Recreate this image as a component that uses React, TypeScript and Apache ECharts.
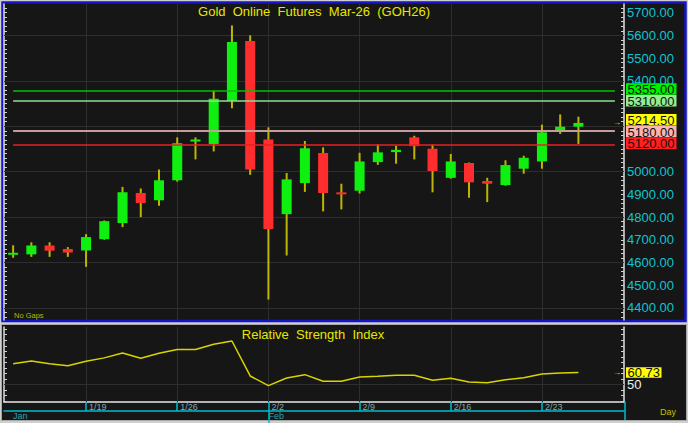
import React, { useEffect, useRef } from 'react';
import * as echarts from 'echarts';

// ---------- data ----------
const dates = [
  '1/13', '1/14', '1/15', '1/16',
  '1/19', '1/20', '1/21', '1/22', '1/23',
  '1/26', '1/27', '1/28', '1/29', '1/30',
  '2/2', '2/3', '2/4', '2/5', '2/6',
  '2/9', '2/10', '2/11', '2/12', '2/13',
  '2/16', '2/17', '2/18', '2/19', '2/20',
  '2/23', '2/24', '2/25', '2/26', '2/27',
];
const opens = [4637, 4636, 4675, 4660, 4653, 4703, 4774, 4906, 4874, 4962, 5135, 5122, 5312, 5575, 5142, 4813, 4950, 5082, 4906, 4916, 5042, 5086, 5151, 5101, 4973, 5038, 4959, 4941, 5013, 5045, 5183, 5198];
const closes = [4640, 4675, 4652, 4644, 4712, 4782, 4909, 4862, 4962, 5125, 5139, 5321, 5571, 5010, 4748, 4966, 5103, 4906, 4903, 5045, 5085, 5096, 5112, 5003, 5045, 4953, 4947, 5029, 5061, 5173, 5198, 5214.5];
const lows = [4621, 4625, 4625, 4625, 4581, 4700, 4756, 4800, 4850, 4956, 5054, 5089, 5279, 4986, 4437, 4631, 4911, 4825, 4834, 4904, 5030, 5035, 5054, 4909, 4969, 4885, 4866, 4938, 4991, 5013, 5166, 5122];
const highs = [4676, 4689, 4689, 4668, 4725, 4785, 4933, 4926, 5010, 5151, 5151, 5356, 5644, 5600, 5195, 4994, 5135, 5107, 4947, 5083, 5120, 5114, 5158, 5119, 5078, 5040, 4973, 5050, 5070, 5207, 5252, 5242];
const rsiValues = [68.6, 71.1, 68.6, 66.9, 70.9, 74.0, 78.5, 73.6, 78.2, 81.6, 81.6, 86.4, 89.3, 57.6, 48.8, 55.8, 58.8, 52.8, 52.8, 56.6, 57.3, 58.2, 58.2, 53.7, 55.5, 52.1, 51.5, 54.2, 56.0, 59.4, 60.3, 60.73];
const weekStarts = ['1/19', '1/26', '2/2', '2/9', '2/16', '2/23'];
const monthNames = ['Jan', 'Feb', 'Mar'];
const priceLabels = [4400, 4500, 4600, 4700, 4800, 4900, 5000, 5100, 5200, 5300, 5400, 5500, 5600, 5700];
const gridPrices = [4400, 4600, 4800, 5000, 5200, 5400, 5600];
const levelValues = [5355, 5310, 5180, 5120];
const rsiLabels = [50];
const rsiGrid = [50];
const titleText = 'Gold  Online  Futures  Mar-26  (GOH26)';
const rsiTitle = 'Relative  Strength  Index';

// ---------- styles ----------
const FONT = 'Liberation Sans, Arial, Helvetica, sans-serif';
const BG = '#161616';
const GRID = '#2e2e2e';
const CYAN = '#00bccc';
const AXIS_LABEL = '#10c4d4';
const WICK = '#bdb500';
const UP = '#10f010';
const DOWN = '#ff2d2d';
const levelLineColors = ['#00c400', '#8ee08e', '#c89a9a', '#e82020'];
const levelBoxColors = ['#00ee00', '#90ee90', '#ffb4b4', '#ff2020'];
const LAST_BOX = '#ffff00';

const PRICE_MIN = 4347;
const PRICE_MAX = 5738;
const RSI_MIN = 34;
const RSI_MAX = 102;
const BH = 11.8;

const minorPriceTicks: number[] = [];
for (let v = 4360; v <= 5720; v += 20) minorPriceTicks.push(v);
const minorRsiTicks: number[] = [];
for (let v = 35; v <= 100; v += 5) minorRsiTicks.push(v);

const monthStartIdx: number[] = [];
dates.forEach((d, i) => {
  const m = d.split('/')[0];
  if (i === 0 || dates[i - 1].split('/')[0] !== m) monthStartIdx.push(i);
});

const candleData = opens.map((o, i) => [i, o, closes[i], lows[i], highs[i]]);

function frameElements(): any[] {
  return [
    { type: 'rect', id: 'mainPanel', silent: true, z: -100, shape: { x: 2.5, y: 2.5, width: 683, height: 318.5 }, style: { fill: BG, stroke: '#1414c8', lineWidth: 2.5 } },
    { type: 'rect', id: 'rsiPanel', silent: true, z: -100, shape: { x: 1.5, y: 324.5, width: 685, height: 96 }, style: { fill: BG, stroke: '#a8a8a8', lineWidth: 1 } },
    { type: 'line', id: 'rsiRightCyan', silent: true, z: 10, shape: { x1: 625, y1: 401.5, x2: 625, y2: 420 }, style: { stroke: CYAN, lineWidth: 1.5 } },
    { type: 'text', id: 'title', silent: true, z: 50, x: 314, y: 11, style: { text: titleText, fill: '#e6e600', fontSize: 13, fontFamily: FONT, align: 'center', verticalAlign: 'middle' } },
    { type: 'text', id: 'rsiTitle', silent: true, z: 50, x: 313, y: 334, style: { text: rsiTitle, fill: '#e6e600', fontSize: 13, fontFamily: FONT, align: 'center', verticalAlign: 'middle' } },
    { type: 'text', id: 'nogaps', silent: true, z: 50, x: 14, y: 315.5, style: { text: 'No Gaps', fill: '#b8b800', fontSize: 7.5, fontFamily: FONT, align: 'left', verticalAlign: 'middle' } },
    { type: 'text', id: 'day', silent: true, z: 50, x: 660, y: 412, style: { text: 'Day', fill: '#c0c000', fontSize: 9, fontFamily: FONT, align: 'left', verticalAlign: 'middle' } },
  ];
}

function buildOption(extra: any[], shownLabels: number[]): any {
  return {
    animation: false,
    backgroundColor: '#cfcfcf',
    textStyle: { fontFamily: FONT },
    grid: [
      { left: 4, top: 4, width: 620, height: 316 },
      { left: 4, top: 327, width: 620, height: 75 },
    ],
    xAxis: [
      {
        type: 'category', gridIndex: 0, data: dates, boundaryGap: true,
        axisLine: { show: false }, axisTick: { show: false }, axisLabel: { show: false }, splitLine: { show: false },
      },
      {
        type: 'category', gridIndex: 1, data: dates, boundaryGap: true,
        axisLine: { show: true, lineStyle: { color: '#e8e8e8', width: 1.5 } },
        axisTick: { show: true, alignWithLabel: true, interval: (_i: number, v: string) => weekStarts.includes(v), length: 9, lineStyle: { color: CYAN, width: 1.5 } },
        axisLabel: { show: true, interval: (_i: number, v: string) => weekStarts.includes(v), align: 'left', padding: [0, 0, 0, 3], margin: 0, fontSize: 9, color: '#86a6ad', fontFamily: FONT },
        splitLine: { show: false },
      },
      {
        type: 'category', gridIndex: 1, data: dates, boundaryGap: true, position: 'bottom', offset: 9,
        axisLine: { show: true, lineStyle: { color: CYAN, width: 1.5 } },
        axisTick: { show: true, alignWithLabel: true, interval: (i: number) => i > 0 && monthStartIdx.includes(i), length: 12, lineStyle: { color: CYAN, width: 1.5 } },
        axisLabel: {
          show: true, interval: (i: number) => monthStartIdx.includes(i), align: 'left', margin: 0, fontSize: 9, color: '#2aa2b2', fontFamily: FONT,
          formatter: (v: string) => monthNames[parseInt(v.split('/')[0], 10) - 1],
        },
        splitLine: { show: false },
      },
    ],
    yAxis: [
      {
        type: 'value', gridIndex: 0, position: 'right', min: PRICE_MIN, max: PRICE_MAX,
        axisLine: { show: true, lineStyle: { color: '#e0e0e0', width: 1.5 } },
        axisTick: { show: true, inside: true, length: 3, customValues: minorPriceTicks, lineStyle: { color: '#d0d0d0' } },
        axisLabel: { show: true, customValues: shownLabels, formatter: (v: number) => v.toFixed(2), color: AXIS_LABEL, fontSize: 13, margin: 3, fontFamily: FONT },
        splitLine: { show: false },
      },
      {
        type: 'value', gridIndex: 0, position: 'left', min: PRICE_MIN, max: PRICE_MAX,
        axisLine: { show: true, lineStyle: { color: '#e0e0e0', width: 1.5 } },
        axisTick: { show: true, inside: true, length: 3, customValues: minorPriceTicks, lineStyle: { color: '#d0d0d0' } },
        axisLabel: { show: false },
        splitLine: { show: false },
      },
      {
        type: 'value', gridIndex: 1, position: 'right', min: RSI_MIN, max: RSI_MAX,
        axisLine: { show: true, lineStyle: { color: '#e0e0e0', width: 1.5 } },
        axisTick: { show: true, inside: true, length: 3, customValues: minorRsiTicks, lineStyle: { color: '#d0d0d0' } },
        axisLabel: { show: true, customValues: rsiLabels, color: '#f0f0f0', fontSize: 13, margin: 3, fontFamily: FONT },
        splitLine: { show: false },
      },
      {
        type: 'value', gridIndex: 1, position: 'left', min: RSI_MIN, max: RSI_MAX,
        axisLine: { show: true, lineStyle: { color: '#e0e0e0', width: 1.5 } },
        axisTick: { show: true, inside: true, length: 3, customValues: minorRsiTicks, lineStyle: { color: '#d0d0d0' } },
        axisLabel: { show: false },
        splitLine: { show: false },
      },
    ],
    series: [
      {
        type: 'line', xAxisIndex: 0, yAxisIndex: 0, data: [], silent: true, z: 1,
        markLine: {
          silent: true, z: 1, symbol: ['none', 'none'], label: { show: false },
          lineStyle: { color: GRID, width: 1, type: 'solid' },
          data: [...gridPrices.map((v) => ({ yAxis: v })), ...weekStarts.map((d) => ({ xAxis: d }))],
        },
      },
      {
        type: 'line', xAxisIndex: 1, yAxisIndex: 2, data: [], silent: true, z: 1,
        markLine: {
          silent: true, z: 1, symbol: ['none', 'none'], label: { show: false },
          lineStyle: { color: GRID, width: 1, type: 'solid' },
          data: [...rsiGrid.map((v) => ({ yAxis: v })), ...weekStarts.map((d) => ({ xAxis: d }))],
        },
      },
      {
        type: 'custom', xAxisIndex: 0, yAxisIndex: 0, z: 2,
        data: candleData,
        encode: { x: 0, y: [1, 2, 3, 4] },
        renderItem: (_params: any, api: any) => {
          const idx = api.value(0);
          const o = api.value(1);
          const c = api.value(2);
          const l = api.value(3);
          const h = api.value(4);
          const pO = api.coord([idx, o]);
          const pC = api.coord([idx, c]);
          const pL = api.coord([idx, l]);
          const pH = api.coord([idx, h]);
          const x = pO[0];
          const bw = api.size([1, 0])[0] * 0.55;
          let top = Math.min(pO[1], pC[1]);
          let hh = Math.abs(pO[1] - pC[1]);
          if (hh < 2) { top = (pO[1] + pC[1]) / 2 - 1; hh = 2; }
          return {
            type: 'group',
            children: [
              { type: 'line', shape: { x1: x, y1: pH[1], x2: x, y2: pL[1] }, style: { stroke: WICK, lineWidth: 2 } },
              { type: 'rect', shape: { x: x - bw / 2, y: top, width: bw, height: hh }, style: { fill: c >= o ? UP : DOWN } },
            ],
          };
        },
        markLine: {
          silent: true, z: 5, symbol: ['none', 'none'], label: { show: false },
          data: levelValues.map((v, i) => [
            { coord: [dates[0], v], lineStyle: { color: levelLineColors[i], width: i === 2 ? 2 : 1.5, type: 'solid' } },
            { coord: [dates[dates.length - 1], v] },
          ]),
        },
      },
      {
        type: 'line', xAxisIndex: 1, yAxisIndex: 2, data: rsiValues, symbol: 'none', silent: true, z: 3,
        lineStyle: { color: '#d8d400', width: 1.5 },
      },
    ],
    graphic: { elements: [...frameElements(), ...extra] },
  };
}

export default function App() {
  const ref = useRef<HTMLDivElement>(null);
  useEffect(() => {
    if (!ref.current) return;
    const chart = echarts.init(ref.current, undefined, { renderer: 'svg' });
    chart.setOption(buildOption([], priceLabels));
    const toY = (v: number, axis: number) => chart.convertToPixel({ yAxisIndex: axis } as any, v) as unknown as number;

    // right-side value boxes, stacked to avoid overlaps
    const lastPrice = closes[closes.length - 1];
    const boxes = [
      ...levelValues.map((v, i) => ({ v, fill: levelBoxColors[i] })),
      { v: lastPrice, fill: LAST_BOX },
    ].map((b) => ({ ...b, y: toY(b.v, 0) }));
    boxes.sort((a, b) => a.y - b.y);
    for (let it = 0; it < 20; it++) {
      for (let i = 1; i < boxes.length; i++) {
        const d = boxes[i].y - boxes[i - 1].y;
        if (d < BH) {
          const s = (BH - d) / 2;
          boxes[i - 1].y -= s;
          boxes[i].y += s;
        }
      }
    }
    const extra: any[] = [];
    const boxCenters: number[] = [];
    boxes.forEach((b, i) => {
      const cy = b.y - 1;
      boxCenters.push(cy);
      extra.push({ type: 'rect', id: 'box' + i, silent: true, z: 60, shape: { x: 626, y: cy - BH / 2, width: 50.5, height: BH - 0.3 }, style: { fill: b.fill } });
      extra.push({ type: 'text', id: 'boxt' + i, silent: true, z: 61, x: 627.5, y: cy + 0.5, style: { text: b.v.toFixed(2), fill: '#101010', fontSize: 13, fontFamily: FONT, align: 'left', verticalAlign: 'middle' } });
    });
    const lastY = toY(lastPrice, 0);
    extra.push({ type: 'text', id: 'arrow1', silent: true, z: 61, x: 617, y: lastY, style: { text: '→', fill: '#e6e600', fontSize: 8, fontFamily: FONT, align: 'center', verticalAlign: 'middle' } });

    const lastRsi = rsiValues[rsiValues.length - 1];
    const rY = toY(lastRsi, 2);
    extra.push({ type: 'rect', id: 'rsibox', silent: true, z: 60, shape: { x: 626, y: rY - 5.3, width: 35.5, height: 10.6 }, style: { fill: LAST_BOX } });
    extra.push({ type: 'text', id: 'rsiboxt', silent: true, z: 61, x: 627.5, y: rY + 0.3, style: { text: lastRsi.toFixed(2), fill: '#101010', fontSize: 13, fontFamily: FONT, align: 'left', verticalAlign: 'middle' } });
    extra.push({ type: 'text', id: 'arrow2', silent: true, z: 61, x: 617, y: rY, style: { text: '→', fill: '#e6e600', fontSize: 8, fontFamily: FONT, align: 'center', verticalAlign: 'middle' } });

    // axis labels that sit fully under a value box are hidden, as in the reference
    const shown = priceLabels.filter((v) => {
      const y = toY(v, 0);
      return !boxCenters.some((c) => Math.abs(c - y) < BH / 2);
    });

    chart.setOption(buildOption(extra, shown), true);
    return () => chart.dispose();
  }, []);
  return <div ref={ref} style={{ position: 'fixed', left: 0, top: 0, width: 688, height: 423 }} />;
}
